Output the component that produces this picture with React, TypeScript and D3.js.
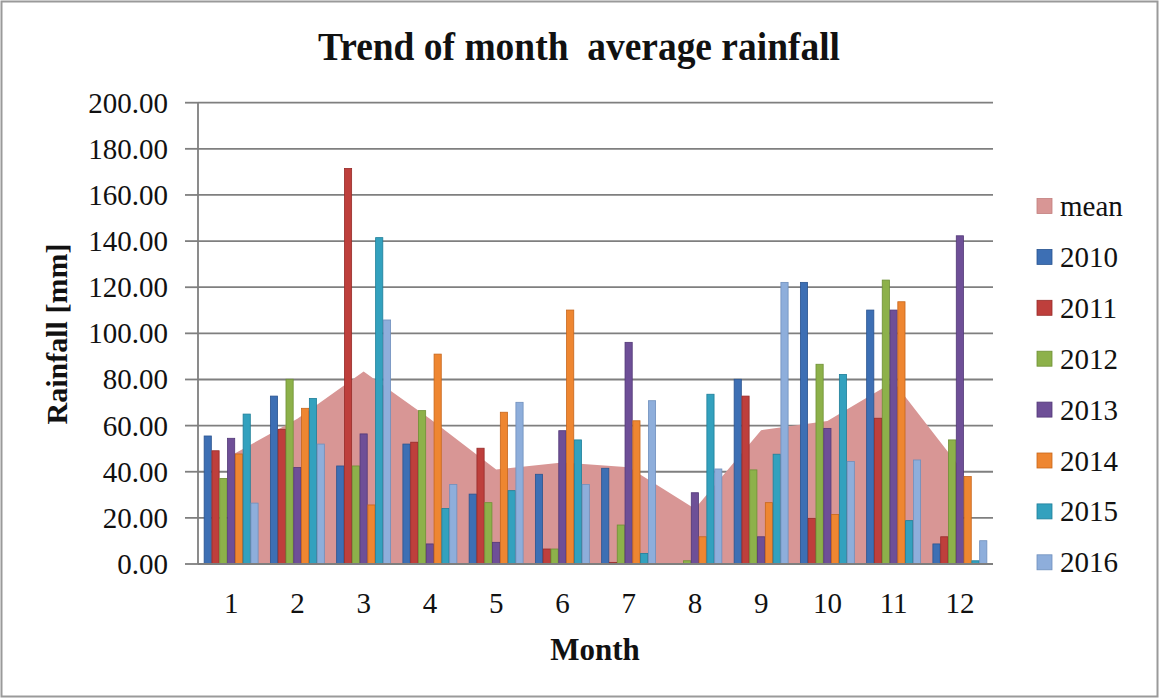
import React from "react";
import * as d3 from "d3";

const months = ["1", "2", "3", "4", "5", "6", "7", "8", "9", "10", "11", "12"];
const years = ["2010", "2011", "2012", "2013", "2014", "2015", "2016"];
const meanValues = [47, 63, 83.5, 63, 41, 44, 42, 24, 58, 62, 79, 42];
const y2010 = [55.5, 72.8, 42.5, 52, 30.3, 38.9, 41.5, 0, 80.1, 122.1, 110.1, 8.7];
const y2011 = [49.1, 58.4, 171.5, 52.8, 50.2, 6.5, 0.7, 0, 72.8, 19.8, 63.2, 11.8];
const y2012 = [37.1, 80.1, 42.5, 66.5, 26.6, 6.5, 16.9, 1.4, 40.8, 86.6, 123.1, 53.8];
const y2013 = [54.5, 41.8, 56.4, 8.7, 9.4, 57.8, 96.1, 30.9, 11.8, 58.8, 110.1, 142.3];
const y2014 = [47.7, 67.5, 25.6, 91, 65.8, 110.1, 62.1, 11.8, 26.6, 21.5, 113.7, 37.9];
const y2015 = [65, 71.8, 141.5, 24.1, 31.8, 53.8, 4.6, 73.6, 47.6, 82.2, 18.8, 1.4];
const y2016 = [26.4, 52, 105.8, 34.5, 70.1, 34.5, 70.8, 41.2, 122.1, 44.4, 45.1, 10.1];
const yTicks = [0, 20, 40, 60, 80, 100, 120, 140, 160, 180, 200];

const seriesValues = [y2010, y2011, y2012, y2013, y2014, y2015, y2016];
const yearColors = ["#3D6FB4", "#BE3F3C", "#8DB14A", "#6E4F97", "#EE8631", "#33A1BE", "#8EAEDB"];
const yearStroke = ["#2A5490", "#962B29", "#6E9035", "#523877", "#C7661B", "#1F7F99", "#6F8FBD"];
const meanColor = "#D89695";

const W = 1159;
const H = 698;
const left = 198;
const right = 993;
const top = 102.7;
const bottom = 564;

export default function App() {
  const x = d3.scaleBand<string>().domain(months).range([left, right]).paddingInner(0).paddingOuter(0);
  const step = x.step();
  const groupW = (step * 7) / 8.5;
  const xi = d3
    .scaleBand<string>()
    .domain(years)
    .range([(step - groupW) / 2, (step + groupW) / 2])
    .padding(0);
  const y = d3.scaleLinear().domain([0, 200]).range([bottom, top]);

  const area = d3
    .area<number>()
    .x((_, i) => (x(months[i]) as number) + step / 2)
    .y0(y(0))
    .y1((d) => y(d))
    .curve(d3.curveLinear);

  const serif = "'Liberation Serif', 'Times New Roman', serif";
  const legendItems = [{ name: "mean", color: meanColor, stroke: "#C27E7D" }].concat(
    years.map((yr, i) => ({ name: yr, color: yearColors[i], stroke: yearStroke[i] }))
  );

  return (
    <div style={{ position: "absolute", left: 0, top: 0 }}>
      <svg width={W} height={H} style={{ display: "block", background: "#fff" }}>
        <rect x={1.5} y={1.5} width={W - 3} height={H - 3} fill="#fff" stroke="#9a9a9a" strokeWidth={2} />
        <text
          x={579}
          y={60}
          textAnchor="middle"
          fontFamily={serif}
          fontWeight="bold"
          fontSize={41}
          textLength={522}
          lengthAdjust="spacingAndGlyphs"
          fill="#111"
          style={{ whiteSpace: "pre" }}
        >
          {"Trend of month  average rainfall"}
        </text>

        {/* gridlines */}
        {yTicks.map((t) => (
          <g key={"g" + t}>
            <line x1={left} x2={right} y1={y(t)} y2={y(t)} stroke="#7f7f7f" strokeWidth={1.8} />
            <line x1={left - 13} x2={left} y1={y(t)} y2={y(t)} stroke="#7f7f7f" strokeWidth={1.8} />
            <text
              x={168}
              y={y(t) + 10}
              textAnchor="end"
              fontFamily={serif}
              fontSize={29}
              fill="#111"
            >
              {t.toFixed(2)}
            </text>
          </g>
        ))}

        {/* mean area */}
        <path d={area(meanValues) || ""} fill={meanColor} />

        {/* bars */}
        {seriesValues.map((vals, si) => (
          <g key={years[si]}>
            {vals.map((v, mi) => {
              const bx = (x(months[mi]) as number) + (xi(years[si]) as number);
              const by = y(v);
              const h = y(0) - by;
              if (h <= 0) return null;
              return (
                <rect
                  key={mi}
                  x={bx + 0.3}
                  y={by}
                  width={xi.bandwidth() - 0.6}
                  height={h}
                  fill={yearColors[si]}
                  stroke={yearStroke[si]}
                  strokeWidth={0.8}
                />
              );
            })}
          </g>
        ))}

        {/* axes */}
        <line x1={left} x2={left} y1={top} y2={bottom} stroke="#7f7f7f" strokeWidth={1.8} />
        <line x1={left} x2={right} y1={bottom} y2={bottom} stroke="#7f7f7f" strokeWidth={1.8} />

        {months.map((m) => (
          <text
            key={"m" + m}
            x={(x(m) as number) + step / 2}
            y={613}
            textAnchor="middle"
            fontFamily={serif}
            fontSize={29}
            fill="#111"
          >
            {m}
          </text>
        ))}

        <text x={595} y={660} textAnchor="middle" fontFamily={serif} fontWeight="bold" fontSize={31} fill="#111">
          Month
        </text>
        <text
          transform="translate(67,334) rotate(-90)"
          textAnchor="middle"
          fontFamily={serif}
          fontWeight="bold"
          fontSize={30}
          fill="#111"
        >
          Rainfall [mm]
        </text>

        {/* legend */}
        {legendItems.map((it, i) => {
          const cy = 206 + i * 50.9;
          return (
            <g key={it.name}>
              <rect x={1037} y={cy - 7.5} width={15} height={15} fill={it.color} stroke={it.stroke} strokeWidth={0.8} />
              <text x={1060} y={cy + 10} fontFamily={serif} fontSize={29} fill="#111">
                {it.name}
              </text>
            </g>
          );
        })}
      </svg>
    </div>
  );
}
